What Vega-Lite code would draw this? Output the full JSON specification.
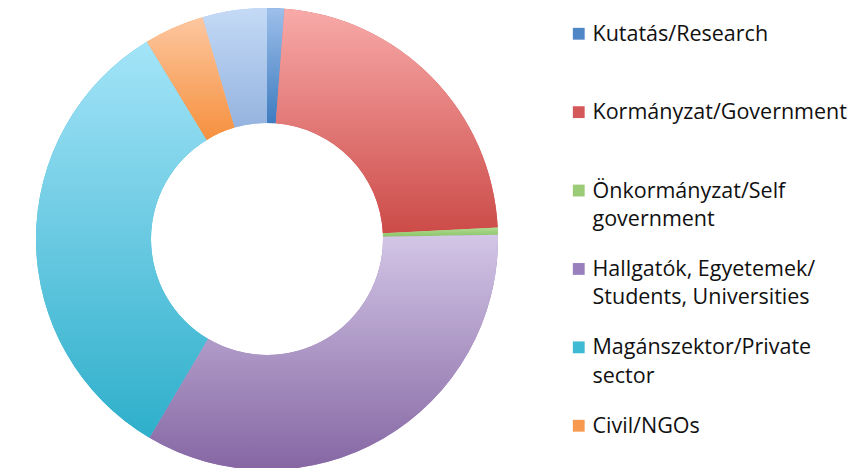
{
  "$schema": "https://vega.github.io/schema/vega-lite/v6.json",
  "width": 462,
  "height": 458,
  "autosize": {"type": "none"},
  "padding": {"left": 36, "top": 10, "right": 355, "bottom": 0},
  "background": "white",
  "view": {"stroke": null},
  "data": {
    "values": [
      {"category": "Kutatás/Research", "value": 1.2, "rank": 1},
      {"category": "Kormányzat/Government", "value": 23.0, "rank": 2},
      {"category": "Önkormányzat/Self government", "value": 0.5, "rank": 3},
      {"category": "Hallgatók, Egyetemek/Students, Universities", "value": 33.8, "rank": 4},
      {"category": "Magánszektor/Private sector", "value": 32.8, "rank": 5},
      {"category": "Civil/NGOs", "value": 4.2, "rank": 6},
      {"category": "Egyéb/Other", "value": 4.5, "rank": 7}
    ]
  },
  "transform": [
    {"stack": "value", "groupby": [], "sort": [{"field": "rank", "order": "ascending"}], "as": ["v0", "v1"]}
  ],
  "encoding": {
    "theta": {"field": "v0", "type": "quantitative", "scale": {"domain": [0, 100]}},
    "theta2": {"field": "v1"}
  },
  "layer": [
    {
      "mark": {"type": "arc", "outerRadius": 231, "innerRadius": 116, "strokeWidth": 0},
      "encoding": {
        "color": {
          "field": "category",
          "type": "nominal",
          "scale": {
            "domain": ["Kutatás/Research", "Kormányzat/Government", "Önkormányzat/Self government", "Hallgatók, Egyetemek/Students, Universities", "Magánszektor/Private sector", "Civil/NGOs", "Egyéb/Other"],
            "range": ["#4f86c6", "#d4585a", "#9bcb76", "#9a7fbd", "#3ebad4", "#f79a50", "#a9c4ea"]
          },
          "legend": {
            "title": null,
            "orient": "none",
            "legendX": 532,
            "legendY": 13,
            "padding": 0,
            "values": ["Kutatás/Research", "Kormányzat/Government", "Önkormányzat/Self government", "Hallgatók, Egyetemek/Students, Universities", "Magánszektor/Private sector", "Civil/NGOs"],
            "symbolType": "square",
            "symbolSize": 140,
            "symbolStrokeWidth": 0,
            "symbolOpacity": 1,
            "labelFont": "Open Sans",
            "labelFontSize": 21.5,
            "labelColor": "#111111",
            "labelOffset": 3,
            "labelBaseline": "alphabetic",
            "labelLimit": 400,
            "rowPadding": 27.4,
            "labelExpr": "datum.label == 'Önkormányzat/Self government' ? ['Önkormányzat/Self', 'government'] : datum.label == 'Hallgatók, Egyetemek/Students, Universities' ? ['Hallgatók, Egyetemek/', 'Students, Universities'] : datum.label == 'Magánszektor/Private sector' ? ['Magánszektor/Private', 'sector'] : [datum.label, ' ']",
            "encode": {
              "labels": {"update": {"lineHeight": {"value": 28.5}, "dy": {"value": 7}}}
            }
          }
        }
      }
    },
    {
      "transform": [{"filter": "datum.rank == 1"}],
      "mark": {"type": "arc", "outerRadius": 231, "innerRadius": 116, "fill": {"gradient": "linear", "x1": 0, "y1": 0, "x2": 0, "y2": 1, "stops": [{"offset": 0, "color": "#9dbfea"}, {"offset": 1, "color": "#3e7cc0"}]}}
    },
    {
      "transform": [{"filter": "datum.rank == 2"}],
      "mark": {"type": "arc", "outerRadius": 231, "innerRadius": 116, "fill": {"gradient": "linear", "x1": 0, "y1": 0, "x2": 0, "y2": 1, "stops": [{"offset": 0, "color": "#f8aaa9"}, {"offset": 1, "color": "#cc4b48"}]}}
    },
    {
      "transform": [{"filter": "datum.rank == 3"}],
      "mark": {"type": "arc", "outerRadius": 231, "innerRadius": 116, "fill": {"gradient": "linear", "x1": 0, "y1": 0, "x2": 0, "y2": 1, "stops": [{"offset": 0, "color": "#b0dc92"}, {"offset": 1, "color": "#8cc468"}]}}
    },
    {
      "transform": [{"filter": "datum.rank == 4"}],
      "mark": {"type": "arc", "outerRadius": 231, "innerRadius": 116, "fill": {"gradient": "linear", "x1": 0, "y1": 0, "x2": 0, "y2": 1, "stops": [{"offset": 0, "color": "#d3c6e6"}, {"offset": 1, "color": "#8566a3"}]}}
    },
    {
      "transform": [{"filter": "datum.rank == 5"}],
      "mark": {"type": "arc", "outerRadius": 231, "innerRadius": 116, "fill": {"gradient": "linear", "x1": 0, "y1": 0, "x2": 0, "y2": 1, "stops": [{"offset": 0, "color": "#a4e4f8"}, {"offset": 1, "color": "#2eafcb"}]}}
    },
    {
      "transform": [{"filter": "datum.rank == 6"}],
      "mark": {"type": "arc", "outerRadius": 231, "innerRadius": 116, "fill": {"gradient": "linear", "x1": 0, "y1": 0, "x2": 0, "y2": 1, "stops": [{"offset": 0, "color": "#fdc7a0"}, {"offset": 1, "color": "#f6903e"}]}}
    },
    {
      "transform": [{"filter": "datum.rank == 7"}],
      "mark": {"type": "arc", "outerRadius": 231, "innerRadius": 116, "fill": {"gradient": "linear", "x1": 0, "y1": 0, "x2": 0, "y2": 1, "stops": [{"offset": 0, "color": "#c4daf6"}, {"offset": 1, "color": "#94b3df"}]}}
    }
  ]
}
